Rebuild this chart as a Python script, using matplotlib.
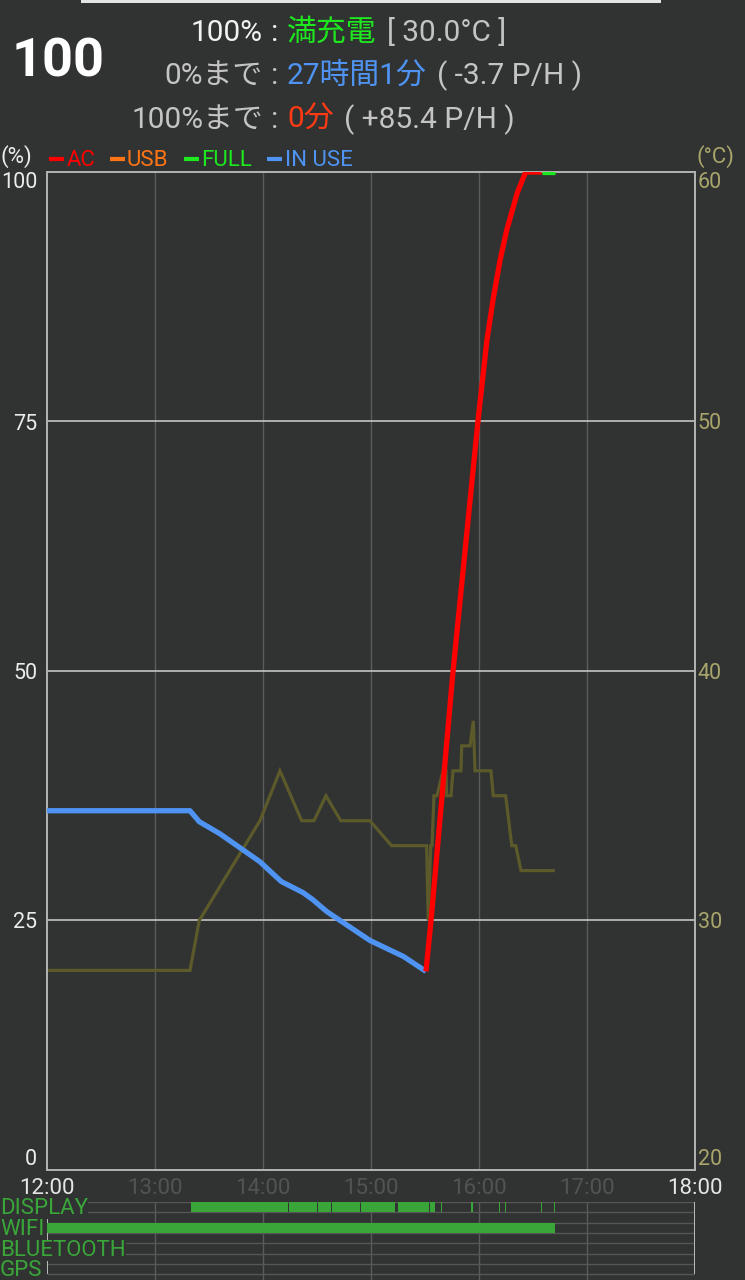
import matplotlib
matplotlib.use('Agg')
import matplotlib.pyplot as plt
from matplotlib.lines import Line2D
from matplotlib.patches import Rectangle
from matplotlib.transforms import blended_transform_factory

plt.rcParams['font.family'] = ['Roboto', 'Noto Sans CJK JP', 'DejaVu Sans']

# ---------------- data ----------------
in_use_t = [12.0, 13.324, 13.41, 13.60, 13.97, 14.17, 14.37, 14.46, 14.59, 14.99, 15.30, 15.509]
in_use_pct = [36.0, 36.0, 34.9, 33.7, 30.9, 28.9, 27.8, 27.1, 25.9, 23.0, 21.4, 19.9]

ac_t = [15.509, 15.556, 15.759, 15.991, 16.074, 16.130, 16.196, 16.257, 16.354, 16.432, 16.58]
ac_pct = [19.9, 25.0, 49.9, 75.1, 83.2, 87.2, 91.2, 94.2, 97.9, 100.0, 100.0]

full_t = [16.58, 16.70]
full_pct = [100.0, 100.0]

temp_t = [12.0, 13.324, 13.41, 13.972, 14.157, 14.358, 14.472, 14.583, 14.72, 14.99,
          15.19, 15.515, 15.53, 15.553, 15.565, 15.583, 15.611, 15.667, 15.694, 15.701,
          15.741, 15.759, 15.833, 15.84, 15.917, 15.947, 15.963, 16.111, 16.132, 16.247,
          16.303, 16.34, 16.389, 16.688]
temp_c = [28, 28, 30, 34, 36, 34, 34, 35, 34, 34,
          33, 33, 30, 33, 33, 35, 35, 36, 36, 35,
          35, 36, 36, 37, 37, 38, 36, 36, 35, 35,
          33, 33, 32, 32]

display_on = [(13.331, 14.233), (14.243, 14.500), (14.506, 14.633), (14.639, 14.895),
              (14.903, 15.225), (15.250, 15.535), (15.549, 15.590), (15.647, 15.656),
              (15.690, 15.699), (15.930, 15.945), (16.184, 16.193), (16.240, 16.249),
              (16.572, 16.587), (16.697, 16.706)]
wifi_on = [(12.0, 16.70)]
bluetooth_on = []
gps_on = []
row_labels = ['DISPLAY', 'WIFI', 'BLUETOOTH', 'GPS']

pct_ticks = [0, 25, 50, 75, 100]
temp_ticks = [20, 30, 40, 50, 60]
hour_ticks = [12, 13, 14, 15, 16, 17, 18]
hour_labels = ['12:00', '13:00', '14:00', '15:00', '16:00', '17:00', '18:00']

legend_labels = ['AC', 'USB', 'FULL', 'IN USE']

level_text = '100'
line1 = ('100%', '満充電', '[ 30.0°C ]')
line2 = ('0%まで', '27時間1分', '( -3.7 P/H )')
line3 = ('100%まで', '0分', '( +85.4 P/H )')

# ---------------- style ----------------
W, H, DPI = 745, 1280, 100
BG = '#303331'
C_AC = '#ff0000'
C_USB = '#ff7414'
C_FULL = '#1ee81e'
C_INUSE = '#4f93f3'
C_TEMP = '#5c5a2a'
C_TEMP_TXT = '#a9a56c'
C_BAR = '#3aa63a'
C_GRID_V = '#5a5b5a'
C_GRID_H = '#c4c4c4'
C_FRAME = '#b4b4b4'
legend_colors = [C_AC, C_USB, C_FULL, C_INUSE]

fig = plt.figure(figsize=(W / DPI, H / DPI), dpi=DPI, facecolor=BG)


def fx(px):
    return px / W


def fy(py):
    return 1 - py / H


# ---------------- main chart ----------------
L, R, T, B = 47, 695, 172, 1170
ax2 = fig.add_axes([fx(L), fy(B), fx(R - L), (B - T) / H])   # temperature (behind)
ax = fig.add_axes([fx(L), fy(B), fx(R - L), (B - T) / H])    # battery (front)
ax2.set_zorder(1)
ax.set_zorder(2)
ax.patch.set_visible(False)
ax2.set_facecolor(BG)

for a in (ax, ax2):
    a.set_xlim(12, 18)
ax.set_ylim(0, 100)
ax2.set_ylim(20, 60)

for h in hour_ticks[1:-1]:
    ax2.axvline(h, color=C_GRID_V, lw=1.0, zorder=1)
for p in pct_ticks[1:-1]:
    ax2.axhline(20 + p * 0.4, color=C_GRID_H, lw=1.2, zorder=1)

ax2.plot(temp_t, temp_c, color=C_TEMP, lw=2.3, zorder=2, solid_joinstyle='miter')

ax.plot(in_use_t, in_use_pct, color=C_INUSE, lw=3.8, zorder=3, solid_capstyle='butt')
ax.plot(ac_t, ac_pct, color=C_AC, lw=3.8, zorder=4, solid_capstyle='butt')
ax.plot(full_t, full_pct, color=C_FULL, lw=3.8, zorder=4, solid_capstyle='butt')

for a in (ax, ax2):
    for s in a.spines.values():
        s.set_color(C_FRAME)
        s.set_linewidth(1.2)

ax2.set_xticks([])
ax.set_xticks(hour_ticks)
ax.set_xticklabels(hour_labels, fontsize=16)
ax.tick_params(axis='x', length=0, pad=6)
for i, lab in enumerate(ax.get_xticklabels()):
    lab.set_color('#e6e6e6' if i in (0, len(hour_ticks) - 1) else '#525453')

ax.set_yticks(pct_ticks)
ax.set_yticklabels([str(p) for p in pct_ticks], fontsize=15.5, color='#ececec')
ax.tick_params(axis='y', length=0, pad=7)
ylabs = ax.get_yticklabels()
ylabs[0].set_va('bottom')
ylabs[-1].set_va('top')

ax2.yaxis.tick_right()
ax2.set_yticks(temp_ticks)
ax2.set_yticklabels([str(t) for t in temp_ticks], fontsize=15.5, color=C_TEMP_TXT)
ax2.tick_params(axis='y', length=0, pad=2)
rlabs = ax2.get_yticklabels()
rlabs[0].set_va('bottom')
rlabs[-1].set_va('top')

fig.text(fx(0), fy(157), '(%)', fontsize=16, color='#ececec', ha='left', va='center')
fig.text(fx(697), fy(157), '(°C)', fontsize=16, color=C_TEMP_TXT, ha='left', va='center')

leg_dash = [(49, 64), (110, 125), (184, 199), (267, 282)]
leg_text_x = [67, 127, 201, 285]
for (x0, x1), tx, lab, col in zip(leg_dash, leg_text_x, legend_labels, legend_colors):
    fig.add_artist(Line2D([fx(x0), fx(x1)], [fy(159), fy(159)], color=col, lw=3.0,
                          solid_capstyle='butt'))
    fig.text(fx(tx), fy(161), lab, fontsize=16, color=col, ha='left', va='center')

# ---------------- bottom state panel ----------------
PT = 1202
ROW_H = 20.7
bx = fig.add_axes([fx(L), 0, fx(R - L), (H - PT) / H])
bx.set_facecolor(BG)
bx.set_xlim(12, 18)
bx.set_ylim((H - PT) / ROW_H, 0)
bx.axis('off')
for h in hour_ticks[1:-1]:
    bx.axvline(h, color=C_GRID_V, lw=1.0, zorder=1)
n_rows = len(row_labels)
for i in range(n_rows):
    for yy in (i, i + 0.5):
        bx.hlines(yy, 12, 18, color='#555655', lw=1.0, zorder=1)
bx.vlines([12, 18], 0, n_rows - 0.5, color='#c8c8c8', lw=1.3, zorder=2)

for i, spans in enumerate([display_on, wifi_on, bluetooth_on, gps_on]):
    for s0, s1 in spans:
        bx.barh(i, s1 - s0, left=s0, height=0.5, align='edge', color=C_BAR,
                edgecolor='none', zorder=3)

tr = blended_transform_factory(fig.transFigure, bx.transData)
for i, lab in enumerate(row_labels):
    bx.text(0.0, i + 0.33, lab, transform=tr, fontsize=16, color=C_BAR,
            ha='left', va='center', zorder=5, clip_on=False,
            bbox=dict(facecolor=BG, edgecolor='none', pad=0.0))

# ---------------- header ----------------
fig.add_artist(Rectangle((fx(81), fy(2.5)), fx(661 - 81), 2.5 / H,
                         facecolor='#e4e4e4', edgecolor='none'))
fig.text(fx(58), fy(62), level_text, fontsize=39, fontweight='bold', color='white',
         ha='center', va='center')

renderer = fig.canvas.get_renderer()
HFS = 21.5
lines = [(line1, 33, '#f2f2f2', C_FULL),
         (line2, 76, '#c4c4c4', C_INUSE),
         (line3, 120, '#c4c4c4', '#ff3a14')]
for (lab, val, rest), y, lab_col, val_col in lines:
    fig.text(fx(263), fy(y), lab, fontsize=HFS, color=lab_col, ha='right', va='center')
    fig.text(fx(275), fy(y), ':', fontsize=HFS, color=lab_col, ha='center', va='center')
    tv = fig.text(fx(287), fy(y), val, fontsize=HFS, color=val_col, ha='left', va='center')
    x1 = tv.get_window_extent(renderer).x1
    fig.text(fx(x1 + 10), fy(y), rest, fontsize=HFS, color='#c4c4c4', ha='left', va='center')

fig.savefig('out.png', dpi=DPI, facecolor=BG)
